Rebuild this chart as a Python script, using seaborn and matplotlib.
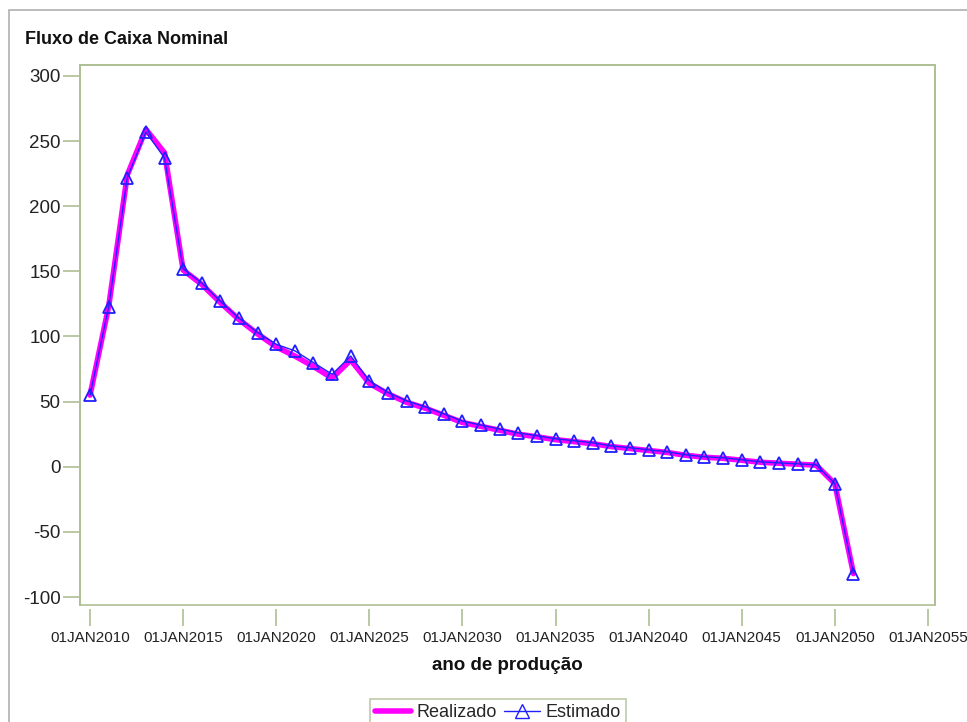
import matplotlib
matplotlib.use("Agg")
import matplotlib.pyplot as plt
import matplotlib.patches as mpatches
from matplotlib.lines import Line2D
import seaborn as sns
import pandas as pd

years = list(range(2010, 2052))
estimado = [55, 123, 222, 257, 237, 152, 141, 127, 114, 103,
            94, 89, 80, 71, 85, 66, 57, 50.6, 46, 40.6,
            35, 32, 29, 26, 23.8, 21.5, 20, 18.4, 16, 14.6,
            13, 11.5, 9.2, 7.7, 6.9, 5.4, 3.8, 3, 2.3, 1.5,
            -13, -82]
realizado = [55, 123, 224, 259, 241, 151, 140, 126, 113, 102,
             92, 85, 77, 68, 82, 64, 56, 49.5, 45, 39.5,
             34, 31, 28, 25, 23, 20.8, 19.3, 17.7, 15.5, 14,
             12.5, 11, 8.8, 7.3, 6.5, 5, 3.5, 2.7, 2, 1.2,
             -13, -82]
xticks = list(range(2010, 2060, 5))
xticklabels = [f"01JAN{y}" for y in xticks]
yticks = [-100, -50, 0, 50, 100, 150, 200, 250, 300]

df = pd.DataFrame({"ano": years, "Realizado": realizado, "Estimado": estimado})

sns.set_style("white")
plt.rcParams["font.family"] = ["Liberation Sans", "DejaVu Sans"]

W, H = 967, 722
fig = plt.figure(figsize=(W / 100, H / 100), dpi=100)
frame_col = "#aebf94"

ax = fig.add_axes([80 / W, 1 - 605 / H, (935 - 80) / W, (605 - 65) / H])

sns.lineplot(data=df, x="ano", y="Realizado", ax=ax, color="#ff00ff", linewidth=4, zorder=2)
sns.lineplot(data=df, x="ano", y="Estimado", ax=ax, color="#2020ff", linewidth=1,
             marker="^", markersize=9, markerfacecolor="none", markeredgecolor="#2020ff",
             markeredgewidth=1.3, zorder=3)

ax.set_xlim(2009.46, 2055.38)
ax.set_ylim(-106.1, 308.4)
ax.set_xticks(xticks)
ax.set_xticklabels(xticklabels)
ax.set_yticks(yticks)
ax.set_yticklabels([str(v) for v in yticks])

for s in ax.spines.values():
    s.set_color(frame_col)
    s.set_linewidth(1.2)
ax.spines["bottom"].set_position(("outward", 3))
ax.spines["bottom"].set_color("none")
ax.add_patch(mpatches.Rectangle((0, 0), 1, 1, transform=ax.transAxes, fill=False,
                                edgecolor=frame_col, linewidth=1.2, zorder=5, clip_on=False))

ax.tick_params(axis="y", length=12, width=1.2, color=frame_col, labelsize=13.5,
               labelcolor="#222222", pad=2, left=True)
ax.tick_params(axis="x", length=12, width=1.2, color=frame_col, labelsize=11,
               labelcolor="#222222", pad=4, bottom=True)

ax.set_xlabel("ano de produção", fontsize=13.5, fontweight="bold", labelpad=8, color="#111111")
ax.set_ylabel("")

fig.text(25 / W, 1 - 40 / H, "Fluxo de Caixa Nominal", fontsize=13, fontweight="bold",
         va="center", ha="left", color="#111111")

# outer border
fig.patches.append(mpatches.Rectangle((9 / W, -0.05), 1.1, 1 - 10 / H + 0.05,
                                      transform=fig.transFigure, fill=False,
                                      edgecolor="#b0b0b0", linewidth=1.2))

handles = [Line2D([], [], color="#ff00ff", linewidth=4),
           Line2D([], [], color="#2020ff", linewidth=1, marker="^", markersize=10,
                  markerfacecolor="none", markeredgecolor="#2020ff")]
leg = fig.legend(handles, ["Realizado", "Estimado"], loc="upper center",
                 bbox_to_anchor=(498 / W, 1 - 690 / H), ncol=2, fontsize=13,
                 frameon=True, fancybox=False, handlelength=2.0, handletextpad=0.3,
                 columnspacing=0.4, borderpad=0.3)
leg.get_frame().set_edgecolor(frame_col)
leg.get_frame().set_linewidth(1.2)

fig.savefig("out.png", dpi=100)
